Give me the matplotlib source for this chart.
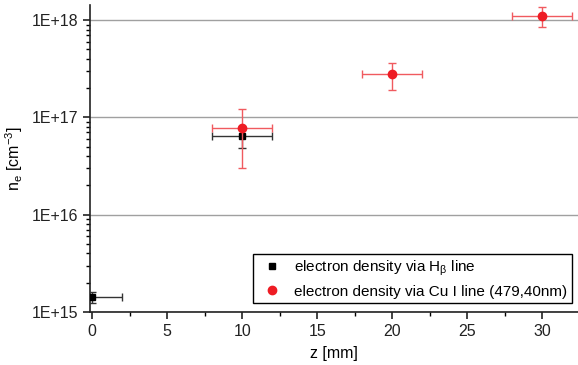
import numpy as np
import matplotlib.pyplot as plt
from matplotlib.lines import Line2D
from matplotlib.ticker import FuncFormatter, MultipleLocator, LogLocator

plt.rcParams['font.family'] = ['Liberation Sans', 'DejaVu Sans']
plt.rcParams['mathtext.fontset'] = 'custom'
plt.rcParams['mathtext.rm'] = 'Liberation Sans'
plt.rcParams['mathtext.it'] = 'Liberation Sans'

# electron density via H-beta line
hb_z = [0, 10]
hb_ne = [1.44e15, 6.5e16]
hb_ne_lo = [1.23e15, 4.8e16]
hb_ne_hi = [1.61e15, 8.0e16]
hb_zerr = [2, 2]

# electron density via Cu I line
cu_z = [10, 20, 30]
cu_ne = [7.7e16, 2.8e17, 1.1e18]
cu_ne_lo = [3.0e16, 1.9e17, 8.4e17]
cu_ne_hi = [1.22e17, 3.6e17, 1.36e18]
cu_zerr = [2, 2, 2]

fig = plt.figure(figsize=(5.78, 3.65), dpi=100)
ax = fig.add_axes([0.1557, 0.1452, 0.8443, 0.8411])

hb_yerr = [np.array(hb_ne) - np.array(hb_ne_lo), np.array(hb_ne_hi) - np.array(hb_ne)]
cu_yerr = [np.array(cu_ne) - np.array(cu_ne_lo), np.array(cu_ne_hi) - np.array(cu_ne)]

red = '#ee1c24'
ax.errorbar(hb_z, hb_ne, xerr=hb_zerr, yerr=hb_yerr, fmt='s', color='black', ms=5,
            ecolor='#333333', elinewidth=1, capsize=3, capthick=1, zorder=3)
ax.errorbar(cu_z, cu_ne, xerr=cu_zerr, yerr=cu_yerr, fmt='o', color=red, ms=6,
            ecolor='#f05a5f', elinewidth=1, capsize=3, capthick=1, zorder=4)

ax.set_yscale('log')
ax.set_ylim(1e15, 1.43e18)
ax.set_xlim(-0.15, 32.4)

ax.yaxis.set_major_locator(LogLocator(base=10, numticks=10))
ax.yaxis.set_minor_locator(LogLocator(base=10, subs=np.arange(2, 10), numticks=20))
ax.yaxis.set_major_formatter(FuncFormatter(lambda v, p: '1E+%d' % round(np.log10(v))))
ax.xaxis.set_major_locator(MultipleLocator(5))
ax.xaxis.set_minor_locator(MultipleLocator(2.5))

ax.grid(axis='y', which='major', color='#a0a0a0', lw=1)
ax.set_axisbelow(True)
for s in ['top', 'right']:
    ax.spines[s].set_visible(False)
for s in ['left', 'bottom']:
    ax.spines[s].set_linewidth(1.2)
    ax.spines[s].set_color('#222222')

ax.tick_params(which='major', direction='out', length=5, width=1.2, labelsize=11.5, colors='#222222')
ax.tick_params(which='minor', direction='out', length=3, width=1)
ax.tick_params(axis='y', which='minor', labelleft=False)

ax.set_xlabel('z [mm]', fontsize=11.5, labelpad=5)
ax.set_ylabel(r'n$_\mathregular{e}$ [cm$^\mathregular{-3}$]', fontsize=11.5, labelpad=5)

handles = [Line2D([], [], ls='none', marker='s', color='black', ms=5),
           Line2D([], [], ls='none', marker='o', color=red, ms=6)]
labels = [r'electron density via H$_\mathregular{\beta}$ line',
          'electron density via Cu I line (479,40nm)']
leg = ax.legend(handles, labels, loc='lower right', bbox_to_anchor=(0.988, 0.029), fontsize=11,
                frameon=True, fancybox=False, edgecolor='black', framealpha=1,
                handletextpad=0.6, borderpad=0.3, labelspacing=0.45, handlelength=1.8,
                borderaxespad=0)
leg.get_frame().set_linewidth(1)

fig.savefig('out.png', dpi=100)
